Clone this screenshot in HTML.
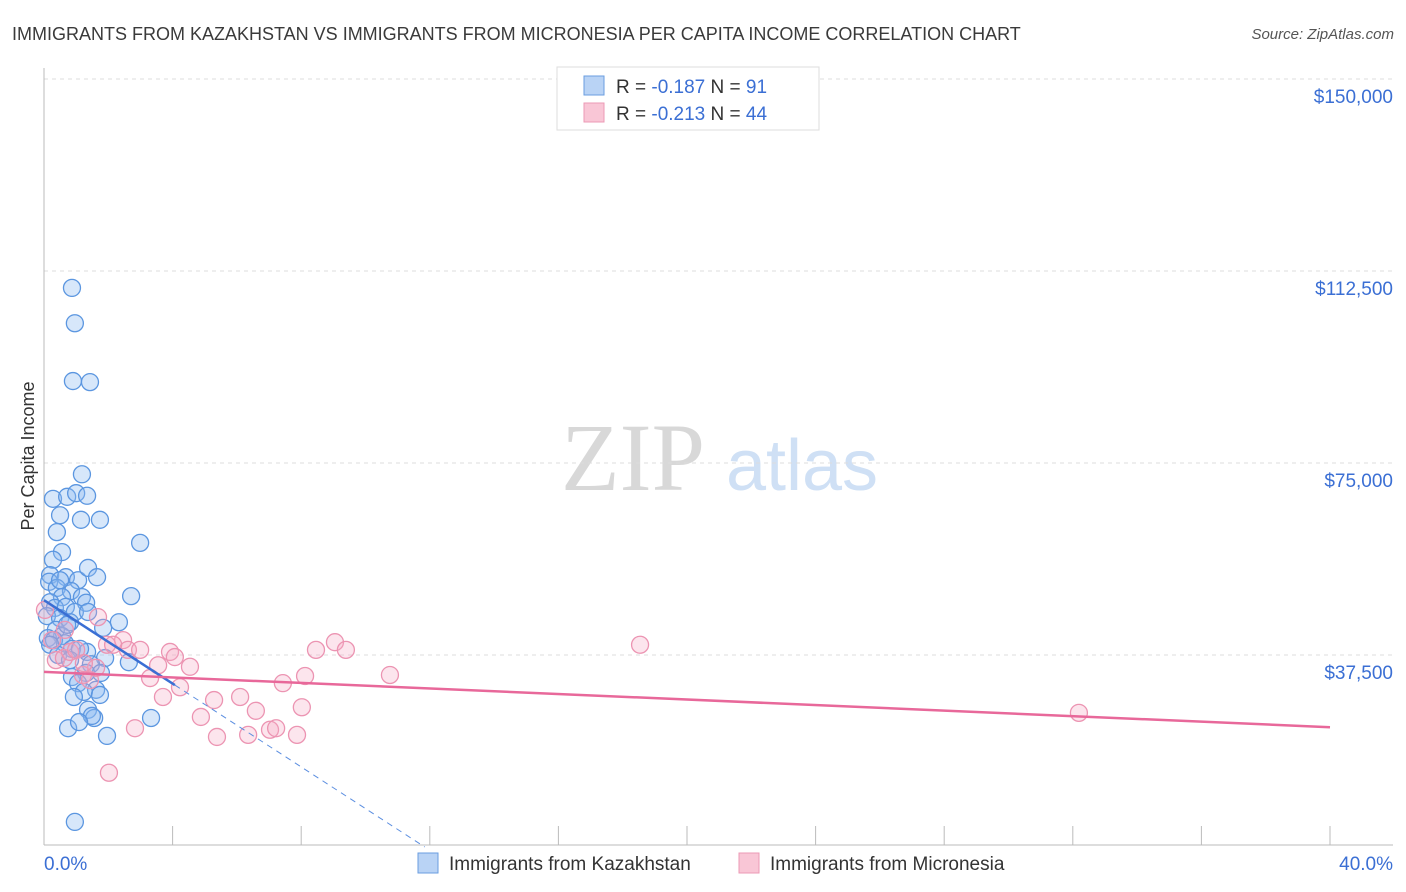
<!DOCTYPE html>
<html><head><meta charset="utf-8"><style>
body{margin:0;background:#fff;font-family:"Liberation Sans",sans-serif}
svg{display:block}
</style></head><body>
<svg id="chart" width="1406" height="892" xmlns="http://www.w3.org/2000/svg">
<text x="12" y="40" font-size="18" fill="#3a3a3a">IMMIGRANTS FROM KAZAKHSTAN VS IMMIGRANTS FROM MICRONESIA PER CAPITA INCOME CORRELATION CHART</text>
<text x="1394" y="39" font-size="15" fill="#555" font-style="italic" text-anchor="end">Source: ZipAtlas.com</text>
<text x="34" y="456" font-size="18" fill="#333" text-anchor="middle" transform="rotate(-90 34 456)">Per Capita Income</text>
<g>
<text x="633" y="490" font-size="96" fill="#d8d8d8" font-family="Liberation Serif,serif" text-anchor="middle">ZIP</text>
<text x="802" y="490" font-size="72" fill="#cfe0f5" text-anchor="middle">atlas</text>
</g>
<g id="grid"></g>
<g id="axes"></g>
<g id="marks"></g>
<g>
<rect x="557" y="67" width="262" height="63" fill="#fff" stroke="#ddd"/>
<rect x="584" y="76" width="20" height="19" fill="#b9d3f5" stroke="#6a9ee0"/>
<rect x="584" y="103" width="20" height="19" fill="#f9c6d6" stroke="#ec9ab5"/>
<text x="616" y="93" font-size="19" fill="#333">R = <tspan fill="#3b6fd4">-0.187</tspan>   N = <tspan fill="#3b6fd4"> 91</tspan></text>
<text x="616" y="120" font-size="19" fill="#333">R = <tspan fill="#3b6fd4">-0.213</tspan>   N = <tspan fill="#3b6fd4">44</tspan></text>
</g>
<g>
<rect x="418" y="853" width="20" height="20" fill="#b9d3f5" stroke="#6a9ee0"/>
<text x="449" y="870" font-size="19" fill="#333">Immigrants from Kazakhstan</text>
<rect x="739" y="853" width="20" height="20" fill="#f9c6d6" stroke="#ec9ab5"/>
<text x="770" y="870" font-size="19" fill="#333">Immigrants from Micronesia</text>
</g>
</svg>
<script>
const yTicks=[37500,75000,112500,150000];
const yTickLabels=["$37,500","$75,000","$112,500","$150,000"];
const xTickLabels=["0.0%","40.0%"];
const blueX=[0.87,0.96,0.90,1.43,1.18,0.28,0.72,1.0,1.34,0.5,1.15,1.74,0.4,2.99,0.56,0.28,0.19,0.68,1.06,1.37,1.65,0.16,0.4,0.84,1.18,0.56,1.31,2.71,0.19,0.34,0.68,0.96,1.37,0.09,0.5,0.81,2.33,1.84,0.37,0.56,0.12,0.31,0.65,0.87,1.34,1.12,1.9,2.64,1.46,1.31,1.77,0.87,1.06,1.62,1.24,0.93,1.74,1.37,1.56,1.49,3.33,0.75,1.09,1.96,0.96,0.5,0.72,0.19,0.44,0.81];
const blueY=[109.2,102.3,91.0,90.8,72.8,68.0,68.4,69.1,68.6,64.8,63.9,63.9,61.5,59.4,57.6,56.1,53.1,52.7,52.1,54.5,52.7,51.8,50.6,50.0,48.8,48.8,47.7,49.0,47.8,46.7,46.9,45.9,45.9,45.1,44.7,43.9,43.9,42.8,42.4,41.2,40.8,40.4,39.8,38.7,38.1,38.7,36.9,36.1,35.7,34.0,34.0,33.2,32.0,30.7,30.3,29.3,29.7,26.8,25.2,25.6,25.2,23.2,24.4,21.7,4.9,52.1,43.4,39.5,37.5,36.5];
const pinkX=[2.02,2.83,0.37,0.25,0.62,0.81,1.0,1.21,1.43,1.68,1.96,2.46,2.61,2.99,3.30,3.55,3.92,4.07,4.23,3.70,4.54,4.88,5.29,5.38,6.10,6.35,6.59,7.03,7.22,7.43,7.87,8.02,8.12,8.46,9.05,9.39,10.76,18.54,32.19,2.15,0.03,0.65,1.62,1.24];
const pinkY=[14.5,23.2,36.5,40.4,36.9,38.1,38.5,33.6,32.6,44.9,39.5,40.4,38.5,38.5,33.0,35.5,38.1,37.1,31.2,29.3,35.2,25.4,28.7,21.5,29.3,21.9,26.6,22.9,23.2,32.0,21.9,27.3,33.4,38.5,40.0,38.5,33.6,39.5,26.2,39.5,46.3,42.4,35.0,35.9];
const blueTrend=[48.2,-4.07]; // intercept (k$), slope per %
const blueSolidEnd=4.07;
const pinkTrend=[34.2,-0.27];
const NS="http://www.w3.org/2000/svg";
const X0=44,X1=1330,Yb=847;
function sx(p){return X0+p*(X1-X0)/40;}
function sy(k){return Yb-k*1000*192/37500;}
function mk(t,a,parent){const e=document.createElementNS(NS,t);for(const k in a)e.setAttribute(k,a[k]);parent.appendChild(e);return e;}
const grid=document.getElementById('grid'),axes=document.getElementById('axes'),marks=document.getElementById('marks');
yTicks.forEach((v,i)=>{const y=sy(v/1000);
const l=mk('line',{x1:44,x2:1393,y1:y,y2:y,stroke:'#ddd','stroke-dasharray':'4,4'},grid);


const t=mk('text',{x:1393,y:y+24,'font-size':19,fill:'#3b6fd4','text-anchor':'end'},axes);t.textContent=yTickLabels[i];

});
const ax=mk('line',{x1:44,x2:1393,y1:845,y2:845,stroke:'#bbb'},axes);


const ay=mk('line',{x1:44,x2:44,y1:68,y2:845,stroke:'#bbb'},axes);


for(let i=1;i<=10;i++){const x=sx(i*4);const t=mk('line',{x1:x,x2:x,y1:826,y2:845,stroke:'#bbb'},axes);

}
const xl0=mk('text',{x:44,y:870,'font-size':19,fill:'#3b6fd4'},axes);xl0.textContent=xTickLabels[0];


const xl1=mk('text',{x:1393,y:870,'font-size':19,fill:'#3b6fd4','text-anchor':'end'},axes);xl1.textContent=xTickLabels[1];


blueX.forEach((x,i)=>{const c=mk('circle',{cx:sx(x),cy:sy(blueY[i]),r:8.5,fill:'rgba(140,185,240,0.35)',stroke:'#5b96e0','stroke-width':1.3},marks);

});
pinkX.forEach((x,i)=>{const c=mk('circle',{cx:sx(x),cy:sy(pinkY[i]),r:8.5,fill:'rgba(245,170,195,0.3)',stroke:'#ec94b2','stroke-width':1.3},marks);

});
const bz=-blueTrend[0]/blueTrend[1];
const bd=mk('line',{x1:sx(blueSolidEnd),y1:sy(blueTrend[0]+blueTrend[1]*blueSolidEnd),x2:sx(bz),y2:sy(0),stroke:'#5b8ee0','stroke-width':1,'stroke-dasharray':'6,5'},marks);


const bl=mk('line',{x1:sx(0),y1:sy(blueTrend[0]),x2:sx(blueSolidEnd),y2:sy(blueTrend[0]+blueTrend[1]*blueSolidEnd),stroke:'#3a6fd4','stroke-width':2.5},marks);


const pl=mk('line',{x1:sx(0),y1:sy(pinkTrend[0]),x2:sx(40),y2:sy(pinkTrend[0]+pinkTrend[1]*40),stroke:'#e8689a','stroke-width':2.5},marks);


</script>
</body></html>
